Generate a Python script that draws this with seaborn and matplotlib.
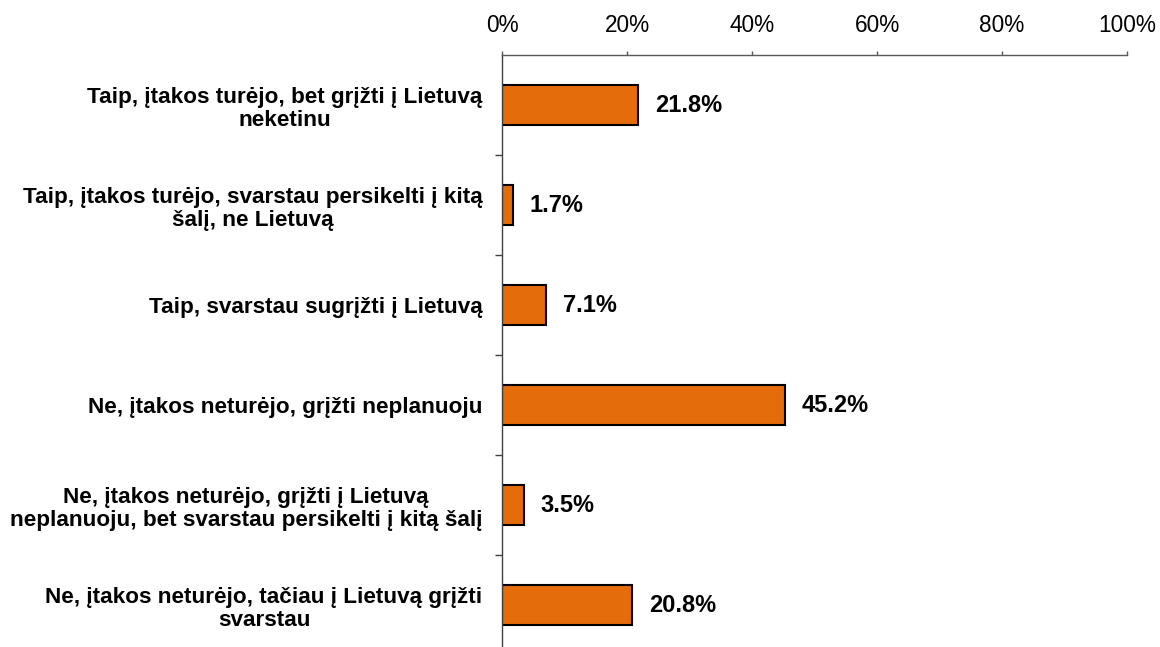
import matplotlib
matplotlib.use("Agg")
import matplotlib.pyplot as plt
import seaborn as sns
import pandas as pd
from matplotlib.ticker import PercentFormatter, FixedLocator

# duomenys
categories = [
    "Taip, įtakos turėjo, bet grįžti į Lietuvą\nneketinu",
    "Taip, įtakos turėjo, svarstau persikelti į kitą\nšalį, ne Lietuvą",
    "Taip, svarstau sugrįžti į Lietuvą",
    "Ne, įtakos neturėjo, grįžti neplanuoju",
    "Ne, įtakos neturėjo, grįžti į Lietuvą\nneplanuoju, bet svarstau persikelti į kitą šalį",
    "Ne, įtakos neturėjo, tačiau į Lietuvą grįžti\nsvarstau",
]
values = [21.8, 1.7, 7.1, 45.2, 3.5, 20.8]
x_ticks = [0, 20, 40, 60, 80, 100]

df = pd.DataFrame({"ats": categories, "proc": values})

sns.set_style("white", {"text.color": "black"})
plt.rcParams["font.family"] = ["Liberation Sans", "DejaVu Sans"]

fig = plt.figure(figsize=(11.6, 6.47), dpi=100)
ax = fig.add_axes([502 / 1160, 1 - 655 / 647, 625 / 1160, 600 / 647])

sns.barplot(data=df, y="ats", x="proc", orient="h", color="#E46C0A",
            saturation=1, edgecolor="black", linewidth=1.5, width=0.4, ax=ax)

ax.set_xlim(0, 100)
ax.set_ylim(len(categories) - 0.5, -0.5)
ax.xaxis.set_major_locator(FixedLocator(x_ticks))
ax.xaxis.set_major_formatter(PercentFormatter(decimals=0))
ax.xaxis.tick_top()
ax.tick_params(axis="x", direction="out", length=3, width=1, color="#595959",
               labelsize=16.3, labelcolor="black", pad=10)

ax.set_yticks(range(len(categories)))
ax.set_yticklabels(categories, fontweight="bold", fontsize=16.2,
                   multialignment="center", linespacing=1.15)
ax.yaxis.set_minor_locator(FixedLocator([i + 0.5 for i in range(len(categories) - 1)]))
ax.tick_params(axis="y", which="major", length=0, pad=14, labelcolor="black")
ax.tick_params(axis="y", which="minor", left=True, length=5, width=1, color="#404040")

for side in ["bottom", "right"]:
    ax.spines[side].set_visible(False)
ax.spines["top"].set_color("#595959")
ax.spines["left"].set_color("#404040")
ax.spines["top"].set_linewidth(1)
ax.spines["left"].set_linewidth(1)

ax.bar_label(ax.containers[0], labels=[f"{v:.1f}%" for v in values],
             padding=12, fontsize=17, fontweight="bold", color="black")

ax.set_xlabel("")
ax.set_ylabel("")

fig.savefig("out.png", dpi=100)
